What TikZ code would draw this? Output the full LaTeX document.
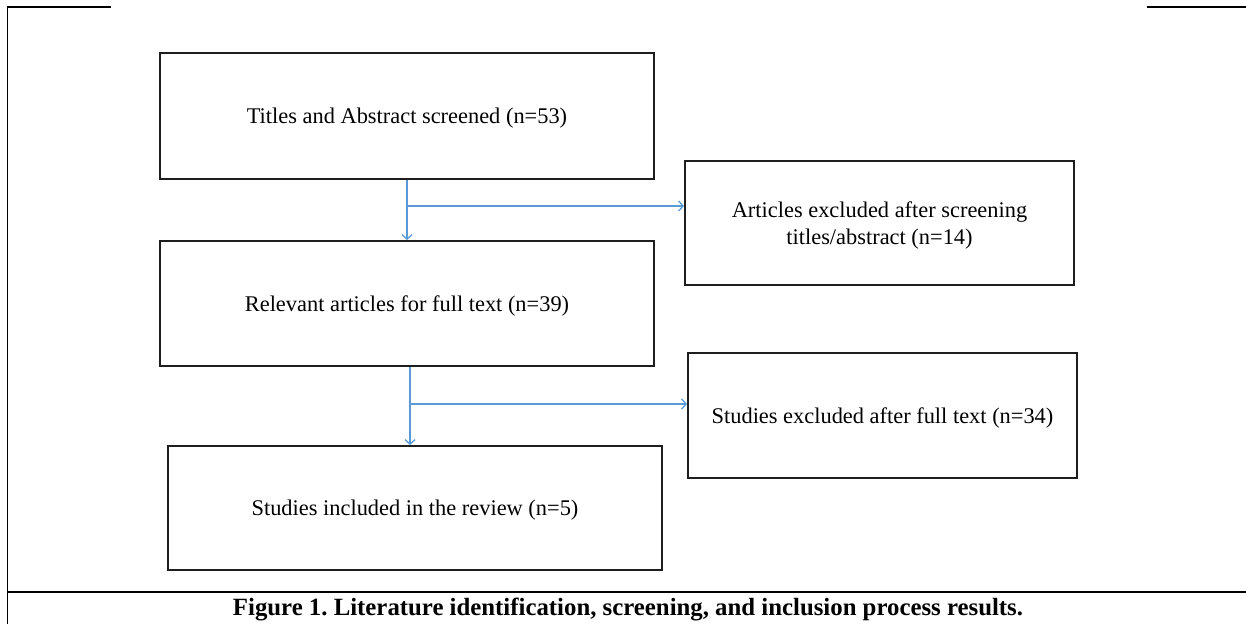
\documentclass[tikz,border=0pt]{standalone}
\usepackage{fontspec}
\setmainfont{Liberation Serif}
\usetikzlibrary{arrows.meta}
\definecolor{arrblue}{RGB}{91,155,213}
\definecolor{boxline}{RGB}{30,30,30}
\begin{document}
\begin{tikzpicture}[x=1pt,y=-1pt,
  stepbox/.style={draw=boxline,line width=2pt,fill=white,inner sep=4pt,align=center,
    text depth=0pt,font=\fontsize{22.4}{27}\selectfont},
  flow/.style={draw=arrblue,line width=1.5pt,-{Straight Barb[length=4.5pt,width=10pt,line width=1.3pt]}},
  frameline/.style={draw=black,line width=2.4pt}]
\useasboundingbox (0,0) rectangle (1246,624);
% frame
\draw[frameline] (7,6.8) -- (111,6.8);
\draw[frameline] (1147,6.8) -- (1246,6.8);
\draw[draw=black,line width=1.6pt] (7.5,5.7) -- (7.5,624);
\draw[frameline] (6.7,592) -- (1246,592);
% boxes
\node[stepbox,minimum width=494pt,minimum height=126pt] (b1) at (407,116) {Titles and Abstract screened (n=53)};
\node[stepbox,minimum width=389pt,minimum height=124pt] (b2) at (879.5,223) {Articles excluded after screening\\titles/abstract (n=14)};
\node[stepbox,minimum width=494pt,minimum height=125pt] (b3) at (407,303.5) {Relevant articles for full text (n=39)};
\node[stepbox,minimum width=389pt,minimum height=125pt] (b4) at (882.5,415.5) {Studies excluded after full text (n=34)};
\node[stepbox,minimum width=494pt,minimum height=124pt] (b5) at (415,508) {Studies included in the review (n=5)};
% connectors
\coordinate (j1) at (407,206);
\coordinate (j2) at (410,404);
\draw[flow] (b1.south) -- (b3.north);
\draw[flow] (j1) -- (j1 -| b2.west);
\draw[flow] (j2 |- b3.south) -- (j2 |- b5.north);
\draw[flow] (j2) -- (j2 -| b4.west);
% caption
\node (cap) at (628,609) {\resizebox{790pt}{!}{\frenchspacing\bfseries Figure 1. Literature identification, screening, and inclusion process results.}};
\end{tikzpicture}
\end{document}
